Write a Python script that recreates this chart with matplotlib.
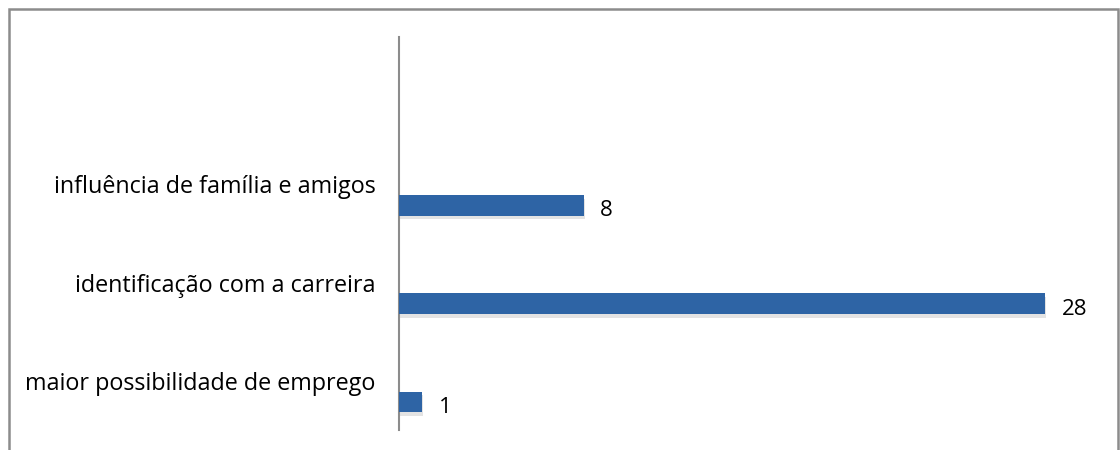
import matplotlib
matplotlib.use('Agg')
import matplotlib.pyplot as plt
import matplotlib.patheffects as pe
from matplotlib.patches import Rectangle

# dados do gráfico (categoria de baixo para cima)
categorias = ['maior possibilidade de emprego',
              'identificação com a carreira',
              'influência de família e amigos',
              '']
valores = [1, 28, 8]

plt.rcParams['font.family'] = ['Open Sans', 'DejaVu Sans']

fig = plt.figure(figsize=(11.2, 4.5), dpi=100)
ax = fig.add_axes([399 / 1120, 20 / 450, 692 / 1120, 393 / 450])

# moldura externa do gráfico
fig.patches.append(Rectangle((9 / 1120, -0.05), 1109 / 1120, 1 - 9 / 450 + 0.05,
                             transform=fig.transFigure, fill=False,
                             edgecolor='#8c8c8c', linewidth=1.8))

pos = list(range(len(valores)))
barras = ax.barh([p - 0.215 for p in pos], valores, height=0.21,
                 color='#2E64A5', zorder=3)
for b in barras:
    b.set_path_effects([pe.SimplePatchShadow(offset=(1, -2.5), shadow_rgbFace='#b0b0b0', alpha=0.35),
                        pe.Normal()])

# rótulos de valor à direita das barras
for p, v in zip(pos, valores):
    ax.text(v + 0.72, p - 0.27, str(v), va='center', ha='left', fontsize=16, color='black')

ax.set_xlim(0, 30)
ax.set_ylim(-0.5, 3.5)
ax.set_yticks(range(len(categorias)))
ax.set_yticklabels(categorias, fontsize=16.8)
ax.tick_params(axis='y', length=0, pad=17)
ax.set_xticks([])

for lado in ['top', 'right', 'bottom']:
    ax.spines[lado].set_visible(False)
ax.spines['left'].set_color('#8c8c8c')
ax.spines['left'].set_linewidth(1.5)

fig.savefig('out.png', dpi=100)
